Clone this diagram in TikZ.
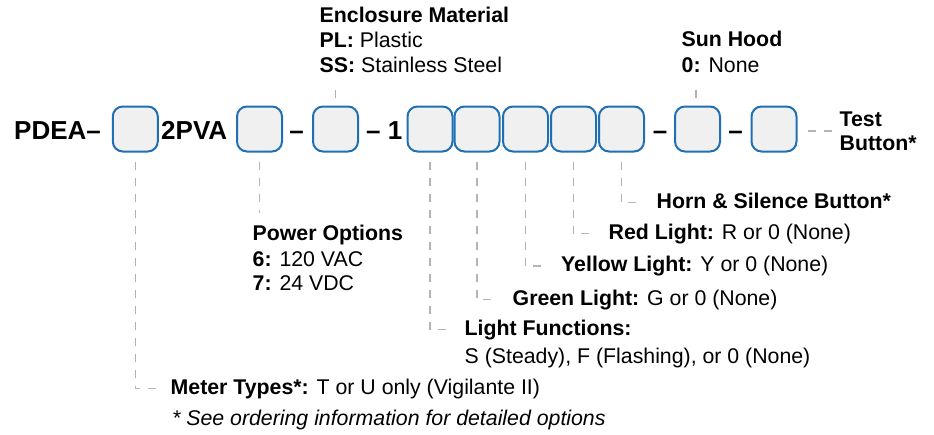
\documentclass[tikz,border=0pt]{standalone}
\usepackage{fontspec}
\setmainfont{Liberation Sans}
\definecolor{slotblue}{HTML}{1F6FB4}
\definecolor{slotfill}{HTML}{F0F0F0}
\definecolor{leadgray}{HTML}{B4B4B4}
\begin{document}
\begin{tikzpicture}[x=1pt,y=-1pt,
        slot/.style={draw=slotblue,fill=slotfill,line width=2pt,rounded corners=10pt,minimum size=45pt,inner sep=0pt},
        code/.style={font=\fontsize{26}{30}\selectfont\bfseries,inner sep=0pt,anchor=base west},
        lbl/.style={font=\fontsize{21.3}{25}\selectfont,inner sep=0pt,anchor=base west},
        lead/.style={draw=leadgray,line width=1.4pt,dash pattern=on 8pt off 8pt}]
        \useasboundingbox (0,0) rectangle (934,434);

        % the code slots
        \node[slot] (b1) at (135.3,129) {};
        \node[slot] (b2) at (259.5,129) {};
        \node[slot] (b3) at (335.5,129) {};
        \node[slot] (b4) at (430,129) {};
        \node[slot] (b5) at (477,129) {};
        \node[slot] (b6) at (525.5,129) {};
        \node[slot] (b7) at (573.5,129) {};
        \node[slot] (b8) at (621.5,129) {};
        \node[slot] (b9) at (697.5,129) {};
        \node[slot] (b10) at (774,129) {};

        % fixed parts of the code
        \node[code] (pdea) at (14,139.5) {PDEA–};
        \node[code] (pva) at (161,139.5) {2PVA};
        \node[code,anchor=base] (d1) at (296.5,139.5) {–};
        \node[code] (d2) at (366,139.5) {– 1};
        \node[code,anchor=base] (d3) at (660,139.5) {–};
        \node[code,anchor=base] (d4) at (735.5,139.5) {–};

        % labels above
        \node[lbl] (em) at (319.5,22) {\textbf{Enclosure Material}};
        \node[lbl] (pl) at (319.5,47) {\textbf{PL:} Plastic};
        \node[lbl] (ss) at (319.5,72.5) {\textbf{SS:} Stainless Steel};
        \node[lbl] (sh) at (681.5,46.7) {\textbf{Sun Hood}};
        \node[lbl] (sh0) at (681.5,72.7) {\textbf{0:} None};
        \node[lbl] (tb) at (839.5,126) {\textbf{Test}};
        \node[lbl] (tb2) at (839.5,150.7) {\textbf{Button*}};

        % labels below
        \node[lbl] (pw) at (252.5,240) {\textbf{Power Options}};
        \node[lbl] (pw6) at (252.5,266) {\textbf{6:} 120 VAC};
        \node[lbl] (pw7) at (252.5,290.7) {\textbf{7:} 24 VDC};
        \node[lbl] (hn) at (656.5,208.3) {\textbf{Horn \& Silence Button*}};
        \node[lbl] (rd) at (608.5,239.3) {\textbf{Red Light:} R or 0 (None)};
        \node[lbl] (yl) at (561,271.7) {\textbf{Yellow Light:} Y or 0 (None)};
        \node[lbl] (gr) at (512.5,305) {\textbf{Green Light:} G or 0 (None)};
        \node[lbl] (lf) at (464.5,335) {\textbf{Light Functions:}};
        \node[lbl] (lf2) at (464.5,363.3) {S (Steady), F (Flashing), or 0 (None)};
        \node[lbl] (mt) at (170.5,394) {\textbf{Meter Types*:} T or U only (Vigilante II)};
        \node[lbl] (note) at (172,425) {\textit{* See ordering information for detailed options}};

        % free ends
        \coordinate[yshift=-10.5pt] (emend) at (b3 |- ss.south);
        \coordinate[xshift=-1.5pt,yshift=-10.5pt] (shend) at (b9 |- sh0.south);
        \coordinate[yshift=11.5pt] (pwend) at (b2 |- pw.north);
        \coordinate[xshift=-7pt,yshift=-2pt] (tbend) at (b10 -| tb.west);

        % leaders
        \draw[lead] ([yshift=8pt]b3.north) -- (emend);
        \draw[lead] ([xshift=-1.5pt,yshift=8pt]b9.north) -- (shend);
        \draw[lead] ([xshift=10pt,yshift=-2pt]b10.east) -- (tbend);
        \draw[lead] ([yshift=-9pt]b2.south) -- (pwend);
        \draw[lead] ([yshift=-9pt]b1.south) |- ([xshift=-14pt,yshift=3pt]mt.mid west);
        \draw[lead] ([yshift=-9pt]b4.south) |- ([xshift=-14pt,yshift=3pt]lf.mid west);
        \draw[lead] ([yshift=-9pt]b5.south) |- ([xshift=-14pt,yshift=3pt]gr.mid west);
        \draw[lead] ([yshift=-9pt]b6.south) |- ([xshift=-14pt,yshift=3pt]yl.mid west);
        \draw[lead] ([yshift=-9pt]b7.south) |- ([xshift=-14pt,yshift=3pt]rd.mid west);
        \draw[lead] ([yshift=-9pt]b8.south) |- ([xshift=-14pt,yshift=3pt]hn.mid west);
    \end{tikzpicture}
\end{document}
